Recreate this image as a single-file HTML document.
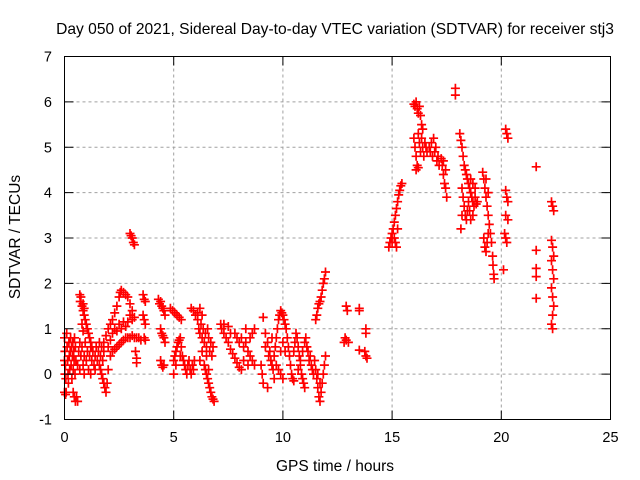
<!DOCTYPE html>
<html><head><meta charset="utf-8"><title>SDTVAR stj3</title>
<style>
html,body{margin:0;padding:0;background:#fff;}
svg{display:block;font-family:"Liberation Sans",sans-serif;}
</style></head>
<body>
<svg id="chart" width="640" height="480" viewBox="0 0 640 480">
<rect x="0" y="0" width="640" height="480" fill="#fff"/>
<text x="335" y="34" font-size="15.6" text-anchor="middle" fill="#000">Day 050 of 2021, Sidereal Day-to-day VTEC variation (SDTVAR) for receiver stj3</text>
<g id="grid"></g>
<g id="marks"></g>
<rect x="64.5" y="56.5" width="546" height="363" fill="none" stroke="#000" stroke-width="1"/>
<g id="ticks"></g>
<text x="335" y="471" font-size="15.5" text-anchor="middle">GPS time / hours</text>
<text x="0" y="0" font-size="15.5" text-anchor="middle" transform="translate(20,237) rotate(-90)">SDTVAR / TECUs</text>
</svg>
<script>
const xTicks = [0, 5, 10, 15, 20, 25];
const yTicks = [-1, 0, 1, 2, 3, 4, 5, 6, 7];
const pass1 = [[0.0,0.8],[0.02,0.5],[0.04,0.2],[0.06,-0.1],[0.08,-0.4],[0.1,0.9],[0.12,0.6],[0.14,0.3],[0.16,0.0],[0.18,-0.2],[0.2,0.7],[0.22,0.4],[0.24,0.1],[0.26,0.5],[0.28,0.8],[0.3,0.2],[0.32,0.6],[0.34,-0.1],[0.36,0.4],[0.38,0.7],[0.4,0.1],[0.42,0.5],[0.44,0.3],[0.46,0.8],[0.48,0.0],[0.5,0.6],[0.52,0.3],[0.55,-0.5],[0.5,-0.6],[0.45,-0.5],[0.4,-0.4],[0.6,-0.6],[0.0,-0.4],[0.05,-0.45],[0.02,0.0],[0.0,0.3]];
const pass2 = [[0.6,0.2],[0.65,0.5],[0.7,0.1],[0.75,0.4],[0.8,0.6],[0.85,0.2],[0.9,0.4],[0.95,0.7],[1.0,0.3],[1.05,0.5],[1.1,0.1],[1.15,0.4],[1.2,0.6],[1.25,0.3],[1.3,0.5],[1.35,0.2],[1.4,0.4],[1.45,0.6],[1.5,0.3],[1.55,0.5],[1.6,0.2],[1.65,0.4],[1.7,0.6],[1.75,0.3],[1.8,0.5],[0.7,0.7],[0.9,0.0],[1.2,0.0],[1.4,0.1],[1.6,0.7]];
const pass3 = [[0.7,1.75],[0.72,1.6],[0.75,1.7],[0.8,1.5],[0.85,1.4],[0.9,1.3],[0.95,1.2],[1.0,1.1],[1.05,1.0],[1.1,0.9],[1.15,0.8],[1.2,0.7],[1.25,0.6],[0.85,1.55],[0.9,1.45],[0.8,1.1],[0.85,0.95]];
const pass4 = [[1.65,0.1],[1.7,0.0],[1.75,-0.1],[1.8,-0.2],[1.85,-0.3],[1.9,-0.4],[1.95,-0.2],[2.0,0.1]];
const pass5 = [[1.8,0.7],[1.9,0.85],[2.0,1.0],[2.1,1.1],[2.2,1.2],[2.3,1.35],[2.4,1.5],[2.5,1.7],[2.55,1.8],[2.6,1.85],[2.7,1.8],[2.8,1.75],[2.9,1.7],[3.0,1.55],[3.1,1.4],[3.2,1.25],[3.0,1.3],[3.1,1.2],[2.9,1.15],[2.8,1.05],[2.7,1.15],[2.6,1.0],[2.5,1.1],[2.4,0.95],[2.3,1.0],[2.2,0.9],[2.1,0.75],[2.0,0.6]];
const pass6 = [[2.1,0.4],[2.2,0.5],[2.3,0.55],[2.4,0.6],[2.5,0.65],[2.6,0.7],[2.7,0.75],[2.8,0.8],[2.9,0.8],[3.0,0.8],[3.1,0.85],[3.2,0.8],[3.3,0.8],[3.4,0.8],[3.5,0.75],[3.25,0.5],[3.3,0.35],[3.3,0.25]];
const pass7 = [[3.0,3.1],[3.05,3.05],[3.1,3.0],[3.15,2.9],[3.2,2.85]];
const pass8 = [[3.6,1.75],[3.65,1.65],[3.7,1.6],[3.6,1.3],[3.65,1.2],[3.7,1.1],[3.65,0.8],[3.7,0.75]];
const pass9 = [[4.3,1.65],[4.35,1.55],[4.4,1.6],[4.45,1.5],[4.5,1.45],[4.55,1.4],[4.6,1.3],[4.4,1.0],[4.45,0.9],[4.5,0.85],[4.55,0.8],[4.6,0.7],[4.4,0.3],[4.45,0.2],[4.5,0.15],[4.55,0.2]];
const pass10 = [[4.85,1.45],[4.95,1.4],[5.05,1.35],[5.15,1.3],[5.25,1.25],[5.35,1.2]];
const pass11 = [[5.0,0.3],[5.05,0.4],[5.1,0.5],[5.15,0.6],[5.2,0.7],[5.25,0.75],[5.3,0.8],[5.35,0.6],[5.4,0.4],[5.45,0.3],[5.5,0.2],[5.55,0.1],[5.6,0.0],[5.65,0.2],[5.7,0.3],[5.75,0.1],[5.8,0.0],[5.85,0.2],[5.9,0.1],[5.95,0.3],[5.0,0.0],[5.1,0.2],[5.3,0.4]];
const pass12 = [[5.8,1.45],[5.9,1.4],[6.0,1.3],[6.1,1.35],[6.2,1.45],[6.3,1.3]];
const pass13 = [[6.1,1.2],[6.15,1.0],[6.2,0.9],[6.25,1.1],[6.3,0.8],[6.35,1.0],[6.4,0.7],[6.45,0.9],[6.5,0.6],[6.55,1.0],[6.6,0.8],[6.65,0.5],[6.7,0.7],[6.75,0.4],[6.8,0.6],[6.2,0.3],[6.3,0.5],[6.4,0.2],[6.5,0.4],[6.6,0.1]];
const pass14 = [[6.45,0.1],[6.5,0.0],[6.55,-0.1],[6.6,-0.2],[6.65,-0.3],[6.7,-0.4],[6.75,-0.5],[6.8,-0.55],[6.85,-0.6]];
const pass15 = [[7.15,1.1],[7.2,1.0],[7.3,0.9],[7.4,0.8],[7.5,0.7],[7.6,0.55],[7.7,0.45],[7.8,0.35],[7.9,0.25],[8.0,0.15],[8.1,0.1],[7.3,1.1],[7.5,1.05],[7.6,0.9]];
const pass16 = [[7.8,0.9],[7.9,0.8],[8.0,0.7],[8.1,0.8],[8.2,0.6],[8.3,0.7],[8.4,0.5],[8.5,0.4],[8.6,0.3],[8.7,0.2],[8.2,0.3],[8.4,0.2],[8.5,0.8],[8.6,0.9],[8.7,1.0],[8.3,1.0]];
const pass17 = [[9.1,1.25],[9.0,0.2],[9.05,0.0],[9.1,-0.2],[9.2,0.6],[9.3,0.7],[9.35,0.4],[9.4,0.5],[9.45,0.3],[9.5,0.2],[9.55,0.1],[9.6,-0.1],[9.3,-0.3],[9.2,0.9],[9.5,0.8]];
const pass18 = [[9.6,0.4],[9.65,0.6],[9.7,0.8],[9.75,1.0],[9.8,1.2],[9.85,1.3],[9.9,1.4],[9.95,1.35],[10.0,1.3],[10.05,1.2],[10.1,1.1],[10.15,1.0],[10.2,0.8],[10.25,0.6],[10.3,0.4],[10.35,0.2],[10.4,0.0],[10.45,-0.1],[10.5,-0.15],[9.7,0.2],[9.8,0.1],[9.9,0.0],[10.0,-0.1],[9.9,0.5],[10.0,0.7],[10.1,0.5]];
const pass19 = [[10.5,0.5],[10.55,0.7],[10.6,0.9],[10.65,0.8],[10.7,0.6],[10.75,0.4],[10.8,0.2],[10.85,0.0],[10.9,-0.1],[10.95,-0.2],[11.0,-0.3],[10.7,0.1],[10.8,0.3],[10.9,0.5],[11.0,0.7],[11.05,0.8],[11.1,0.6],[11.15,0.5],[11.2,0.3],[11.25,0.4],[11.3,0.2],[11.35,0.1],[11.4,0.0]];
const pass20 = [[11.45,0.3],[11.5,0.1],[11.55,-0.1],[11.6,-0.3],[11.65,-0.5],[11.7,-0.6],[11.75,-0.4],[11.8,-0.2],[11.85,0.0],[11.9,0.2],[11.95,0.4],[11.6,0.0],[11.7,-0.2]];
const pass21 = [[11.5,1.2],[11.55,1.3],[11.6,1.45],[11.65,1.55],[11.7,1.6],[11.75,1.7],[11.8,1.85],[11.85,2.0],[11.9,2.1],[11.95,2.25]];
const pass22 = [[12.8,0.7],[12.85,0.8],[12.9,0.75],[13.0,0.7],[12.9,1.5],[12.95,1.4],[13.5,1.45],[13.5,1.4],[13.5,0.53],[13.8,1.0],[13.8,0.9],[13.8,0.4],[13.85,0.35],[13.75,0.5]];
const pass23 = [[14.85,2.8],[14.9,2.9],[14.95,3.0],[15.0,3.1],[15.05,3.2],[15.1,3.35],[15.15,3.5],[15.2,3.65],[15.25,3.8],[15.3,3.95],[15.35,4.05],[15.4,4.15],[15.45,4.2],[15.0,2.9],[15.1,3.0],[15.2,2.8],[15.25,3.2],[15.15,2.9]];
const pass24 = [[16.0,5.95],[16.05,5.9],[16.1,6.0],[16.15,5.85],[16.2,5.75],[16.25,5.9],[16.3,5.7],[16.35,5.5],[16.4,5.4],[16.0,5.2],[16.05,5.0],[16.1,4.8],[16.15,4.6],[16.2,5.3],[16.25,5.1],[16.3,4.9],[16.35,5.2],[16.4,5.0],[16.45,4.8],[16.5,5.1],[16.55,5.0],[16.6,4.9],[16.1,4.5],[16.2,4.55]];
const pass25 = [[16.7,5.0],[16.75,4.9],[16.8,5.1],[16.85,4.8],[16.9,5.2],[16.95,4.9],[17.0,5.0],[17.05,4.7],[17.1,4.8],[17.15,4.6]];
const pass26 = [[17.25,4.75],[17.3,4.6],[17.35,4.4],[17.4,4.2],[17.45,4.1],[17.5,3.9],[17.45,4.5],[17.35,4.7]];
const pass27 = [[17.9,6.3],[17.9,6.15]];
const pass28 = [[18.1,5.3],[18.15,5.15],[18.2,5.0],[18.25,4.8],[18.3,4.6],[18.35,4.5],[18.4,4.4],[18.45,4.3],[18.5,4.2],[18.55,4.1],[18.6,4.0],[18.65,3.9],[18.7,3.8],[18.75,3.7],[18.8,3.9],[18.85,3.75],[18.9,3.8],[18.2,4.1],[18.25,3.9],[18.3,3.7],[18.35,3.5],[18.4,3.4],[18.45,3.6],[18.5,3.8],[18.55,3.6],[18.6,3.4],[18.7,3.5],[18.15,3.2],[18.2,3.5],[18.6,4.3],[18.7,4.2],[18.8,4.1]];
const pass29 = [[19.15,4.45],[19.2,4.3],[19.25,4.1],[19.3,3.9],[19.35,3.7],[19.4,3.5],[19.45,3.3],[19.5,3.1],[19.55,2.9],[19.6,2.6],[19.62,2.4],[19.65,2.2],[19.67,2.1],[19.2,3.0],[19.25,2.8],[19.3,2.7],[19.35,2.9],[19.4,3.1],[19.3,4.3],[19.4,4.0]];
const pass30 = [[20.2,5.4],[20.25,5.3],[20.3,5.2],[20.2,4.05],[20.25,3.9],[20.3,3.8],[20.2,3.5],[20.3,3.4],[20.15,3.1],[20.2,3.0],[20.25,2.9],[20.1,2.3]];
const pass31 = [[21.6,4.57],[21.6,2.73],[21.6,2.33],[21.6,2.15],[21.6,1.67]];
const pass32 = [[22.3,3.8],[22.35,3.7],[22.4,3.6],[22.3,2.95],[22.35,2.8],[22.4,2.6],[22.3,2.5],[22.35,2.3],[22.4,2.1],[22.3,1.9],[22.35,1.7],[22.4,1.5],[22.35,1.3],[22.3,1.1],[22.35,1.0]];
const passes = [pass1,pass2,pass3,pass4,pass5,pass6,pass7,pass8,pass9,pass10,pass11,pass12,pass13,pass14,pass15,pass16,pass17,pass18,pass19,pass20,pass21,pass22,pass23,pass24,pass25,pass26,pass27,pass28,pass29,pass30,pass31,pass32];

const X0 = 64.5, X1 = 610.5, Y0 = 419.5, Y1 = 56.5;
const xMin = 0, xMax = 25, yMin = -1, yMax = 7;
function xs(v){ return X0 + (v - xMin) / (xMax - xMin) * (X1 - X0); }
function ys(v){ return Y0 - (v - yMin) / (yMax - yMin) * (Y0 - Y1); }
const NS = 'http://www.w3.org/2000/svg';
const grid = document.getElementById('grid');
const ticks = document.getElementById('ticks');
const marks = document.getElementById('marks');
function mk(tag, attrs, parent){ const e = document.createElementNS(NS, tag); for (const k in attrs) e.setAttribute(k, attrs[k]); parent.appendChild(e); return e; }

xTicks.forEach(function(t){
  const x = xs(t);
  if (t !== xMin && t !== xMax) {
    const g = mk('line', {x1:x, y1:Y0, x2:x, y2:Y1, stroke:'#a0a0a0', 'stroke-dasharray':'3,3', 'stroke-width':1}, grid);
    
    
  }
  const a = mk('line', {x1:x, y1:Y0, x2:x, y2:Y0-9, stroke:'#000'}, ticks);
  
  
  const b = mk('line', {x1:x, y1:Y1, x2:x, y2:Y1+9, stroke:'#000'}, ticks);
  
  
  const l = mk('text', {x:x, y:442, 'font-size':14.5, 'text-anchor':'middle'}, ticks);
  l.textContent = String(t);
  
  
});
yTicks.forEach(function(t){
  const y = ys(t);
  if (t !== yMin && t !== yMax) {
    const g = mk('line', {x1:X0, y1:y, x2:X1, y2:y, stroke:'#a0a0a0', 'stroke-dasharray':'3,3', 'stroke-width':1}, grid);
    
    
  }
  const a = mk('line', {x1:X0, y1:y, x2:X0+9, y2:y, stroke:'#000'}, ticks);
  
  
  const b = mk('line', {x1:X1, y1:y, x2:X1-9, y2:y, stroke:'#000'}, ticks);
  
  
  const l = mk('text', {x:52, y:y+5, 'font-size':14.5, 'text-anchor':'end'}, ticks);
  l.textContent = String(t);
  
  
});
let d = '';
passes.forEach(function(p){
  p.forEach(function(pt){
    const x = xs(pt[0]), y = ys(pt[1]);
    d += 'M' + (x-4.5).toFixed(1) + ' ' + y.toFixed(1) + 'h9M' + x.toFixed(1) + ' ' + (y-4.5).toFixed(1) + 'v9';
  });
});
const path = mk('path', {d:d, stroke:'#ff0000', 'stroke-width':1.7, fill:'none'}, marks);


</script>
</body></html>
